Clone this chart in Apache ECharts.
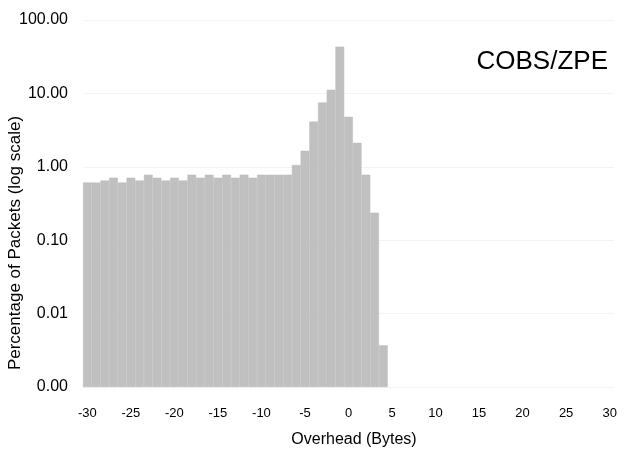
<!DOCTYPE html>
<html>
<head>
<meta charset="utf-8">
<script src="https://cdn.jsdelivr.net/npm/echarts@6/dist/echarts.min.js"></script>
<style>html,body{margin:0;padding:0;background:#fff;}#c{width:629px;height:455px;}</style>
</head>
<body>
<div id="c"></div>
<script>
// x categories: overhead in bytes, -30 .. 30
var categories = [];
for (var k = -30; k <= 30; k++) categories.push(String(k));
// percentage of packets for overhead -30 .. 4
var values = [
  0.61, 0.61, 0.65, 0.71, 0.61, 0.71, 0.65, 0.78, 0.71, 0.65,
  0.71, 0.65, 0.78, 0.71, 0.78, 0.71, 0.78, 0.71, 0.78, 0.71,
  0.78, 0.78, 0.78, 0.78, 1.06, 1.65, 4.13, 7.5, 11.2, 43.3,
  4.79, 2.12, 0.78, 0.237, 0.0037
];
var yTicks = [0.001, 0.01, 0.1, 1, 10, 100];
var title = 'COBS/ZPE';
var xName = 'Overhead (Bytes)';
var yName = 'Percentage of Packets (log scale)';

var FONT = '"Liberation Sans", Arial, sans-serif';
var chart = echarts.init(document.getElementById('c'));
chart.setOption({
  animation: false,
  backgroundColor: '#ffffff',
  textStyle: { fontFamily: 'Liberation Sans, Arial, sans-serif' },
  grid: { left: 83, right: 15, top: 20, bottom: 68, outerBoundsMode: 'none', containLabel: false },
  graphic: [{
    type: 'text', right: 21, top: 49,
    style: { text: title, font: '26px ' + FONT, fill: '#000' }
  }, {
    type: 'text', x: 354, y: 440,
    style: { text: xName, font: '16px ' + FONT, fill: '#000', align: 'center', verticalAlign: 'middle' }
  }, {
    type: 'text', x: 15, y: 243, rotation: Math.PI / 2,
    style: { text: yName, font: '17px ' + FONT, fill: '#000', align: 'center', verticalAlign: 'middle' }
  }],
  xAxis: {
    type: 'category',
    data: categories,
    boundaryGap: true,
    axisLine: { show: false },
    axisTick: { show: false },
    axisLabel: { interval: 4, color: '#000', fontSize: 13, margin: 20 }
  },
  yAxis: {
    type: 'log',
    logBase: 10,
    min: yTicks[0],
    max: yTicks[yTicks.length - 1],
    startValue: yTicks[0],
    axisLine: { show: false },
    axisTick: { show: false },
    axisLabel: { color: '#000', fontSize: 16, margin: 15, formatter: function (v) { return Number(v).toFixed(2); } },
    splitLine: { show: true, lineStyle: { color: '#f3f3f3', width: 1 } }
  },
  series: [{
    type: 'bar',
    data: values,
    barWidth: '100%',
    barCategoryGap: '0%',
    itemStyle: { color: '#c0c0c0', borderColor: '#bababa', borderWidth: 0.5 }
  }]
});
</script>
</body>
</html>
